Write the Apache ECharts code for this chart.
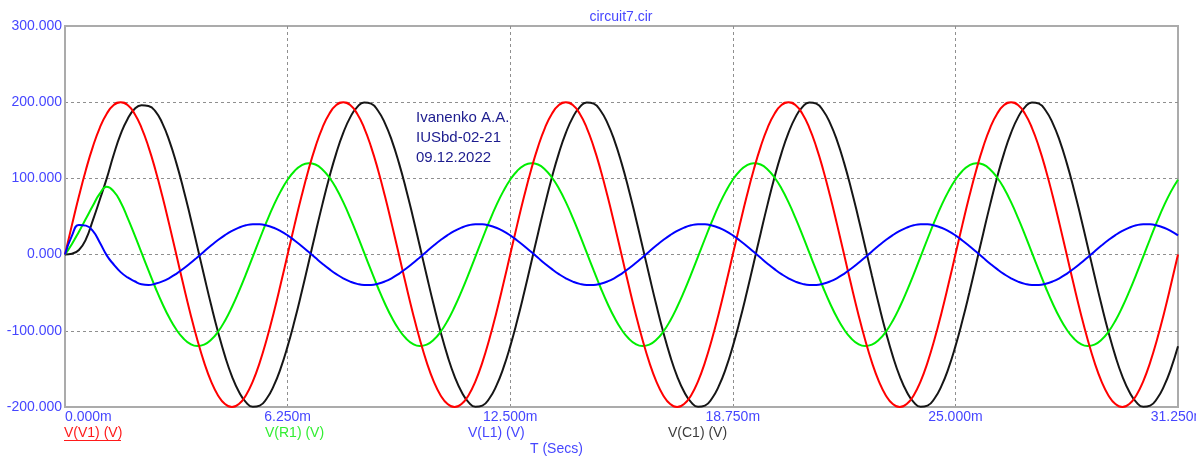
<!DOCTYPE html>
<html>
<head>
<meta charset="utf-8">
<script src="https://cdn.jsdelivr.net/npm/echarts@6/dist/echarts.min.js"></script>
<style>
  html, body { margin: 0; padding: 0; background: #ffffff; }
  #chart { width: 1196px; height: 456px; }
</style>
</head>
<body>
<div id="chart"></div>
<script>
// Transient analysis samples, one every STEP_MS milliseconds (0 .. 31.25 ms)
const STEP_MS = 0.1953125;

// V(V1) (V)
const vV1 = [
  0, 39.0, 76.5, 111.1, 141.4, 166.3, 184.8, 196.2, 200, 196.2, 184.8, 166.3, 141.4, 111.1, 76.5, 39.0, 0, -39.0, -76.5, -111.1, -141.4, -166.3, -184.8, -196.2, -200, -196.2, -184.8, -166.3, -141.4, -111.1, -76.5, -39.0,
  0, 39.0, 76.5, 111.1, 141.4, 166.3, 184.8, 196.2, 200, 196.2, 184.8, 166.3, 141.4, 111.1, 76.5, 39.0, 0, -39.0, -76.5, -111.1, -141.4, -166.3, -184.8, -196.2, -200, -196.2, -184.8, -166.3, -141.4, -111.1, -76.5, -39.0,
  0, 39.0, 76.5, 111.1, 141.4, 166.3, 184.8, 196.2, 200, 196.2, 184.8, 166.3, 141.4, 111.1, 76.5, 39.0, 0, -39.0, -76.5, -111.1, -141.4, -166.3, -184.8, -196.2, -200, -196.2, -184.8, -166.3, -141.4, -111.1, -76.5, -39.0,
  0, 39.0, 76.5, 111.1, 141.4, 166.3, 184.8, 196.2, 200, 196.2, 184.8, 166.3, 141.4, 111.1, 76.5, 39.0, 0, -39.0, -76.5, -111.1, -141.4, -166.3, -184.8, -196.2, -200, -196.2, -184.8, -166.3, -141.4, -111.1, -76.5, -39.0,
  0, 39.0, 76.5, 111.1, 141.4, 166.3, 184.8, 196.2, 200, 196.2, 184.8, 166.3, 141.4, 111.1, 76.5, 39.0, 0, -39.0, -76.5, -111.1, -141.4, -166.3, -184.8, -196.2, -200, -196.2, -184.8, -166.3, -141.4, -111.1, -76.5, -39.0,
  0
];

// V(R1) (V)
const vR1 = [
  0, 14, 30, 47, 64, 80, 89, 83, 68.8, 48.3, 26.0, 2.6, -20.8, -43.5, -64.5, -83.0, -98.3, -109.8, -117.2, -120.0, -118.2, -111.8, -101.2, -86.7, -68.8, -48.3, -26.0, -2.6, 20.8, 43.5, 64.5, 83.0,
  98.3, 109.8, 117.2, 120.0, 118.2, 111.8, 101.2, 86.7, 68.8, 48.3, 26.0, 2.6, -20.8, -43.5, -64.5, -83.0, -98.3, -109.8, -117.2, -120.0, -118.2, -111.8, -101.2, -86.7, -68.8, -48.3, -26.0, -2.6, 20.8, 43.5, 64.5, 83.0,
  98.3, 109.8, 117.2, 120.0, 118.2, 111.8, 101.2, 86.7, 68.8, 48.3, 26.0, 2.6, -20.8, -43.5, -64.5, -83.0, -98.3, -109.8, -117.2, -120.0, -118.2, -111.8, -101.2, -86.7, -68.8, -48.3, -26.0, -2.6, 20.8, 43.5, 64.5, 83.0,
  98.3, 109.8, 117.2, 120.0, 118.2, 111.8, 101.2, 86.7, 68.8, 48.3, 26.0, 2.6, -20.8, -43.5, -64.5, -83.0, -98.3, -109.8, -117.2, -120.0, -118.2, -111.8, -101.2, -86.7, -68.8, -48.3, -26.0, -2.6, 20.8, 43.5, 64.5, 83.0,
  98.3, 109.8, 117.2, 120.0, 118.2, 111.8, 101.2, 86.7, 68.8, 48.3, 26.0, 2.6, -20.8, -43.5, -64.5, -83.0, -98.3, -109.8, -117.2, -120.0, -118.2, -111.8, -101.2, -86.7, -68.8, -48.3, -26.0, -2.6, 20.8, 43.5, 64.5, 83.0,
  98.3
];

// V(L1) (V)
const vL1 = [
  0, 25, 39, 38, 31, 16, -1, -13, -23, -30, -35, -39, -40, -38.2, -35.2, -30.8, -25.2, -18.6, -11.4, -3.7, 4.2, 11.9, 19.1, 25.6, 31.1, 35.4, 38.4, 39.8, 39.8, 38.2, 35.2, 30.8,
  25.2, 18.6, 11.4, 3.7, -4.2, -11.9, -19.1, -25.6, -31.1, -35.4, -38.4, -39.8, -39.8, -38.2, -35.2, -30.8, -25.2, -18.6, -11.4, -3.7, 4.2, 11.9, 19.1, 25.6, 31.1, 35.4, 38.4, 39.8, 39.8, 38.2, 35.2, 30.8,
  25.2, 18.6, 11.4, 3.7, -4.2, -11.9, -19.1, -25.6, -31.1, -35.4, -38.4, -39.8, -39.8, -38.2, -35.2, -30.8, -25.2, -18.6, -11.4, -3.7, 4.2, 11.9, 19.1, 25.6, 31.1, 35.4, 38.4, 39.8, 39.8, 38.2, 35.2, 30.8,
  25.2, 18.6, 11.4, 3.7, -4.2, -11.9, -19.1, -25.6, -31.1, -35.4, -38.4, -39.8, -39.8, -38.2, -35.2, -30.8, -25.2, -18.6, -11.4, -3.7, 4.2, 11.9, 19.1, 25.6, 31.1, 35.4, 38.4, 39.8, 39.8, 38.2, 35.2, 30.8,
  25.2, 18.6, 11.4, 3.7, -4.2, -11.9, -19.1, -25.6, -31.1, -35.4, -38.4, -39.8, -39.8, -38.2, -35.2, -30.8, -25.2, -18.6, -11.4, -3.7, 4.2, 11.9, 19.1, 25.6, 31.1, 35.4, 38.4, 39.8, 39.8, 38.2, 35.2, 30.8,
  25.2
];

// V(C1) (V)
const vC1 = [
  0, 1, 6, 20, 45, 72, 100, 131, 158, 178, 191, 196, 195, 188, 172.3, 149.3, 120.4, 86.9, 50.1, 11.3, -27.8, -65.9, -101.5, -133.2, -159.7, -180.1, -193.6, -199.7, -198.1, -188.8, -172.3, -149.3,
  -120.4, -86.9, -50.1, -11.3, 27.8, 65.9, 101.5, 133.2, 159.7, 180.1, 193.6, 199.7, 198.1, 188.8, 172.3, 149.3, 120.4, 86.9, 50.1, 11.3, -27.8, -65.9, -101.5, -133.2, -159.7, -180.1, -193.6, -199.7, -198.1, -188.8, -172.3, -149.3,
  -120.4, -86.9, -50.1, -11.3, 27.8, 65.9, 101.5, 133.2, 159.7, 180.1, 193.6, 199.7, 198.1, 188.8, 172.3, 149.3, 120.4, 86.9, 50.1, 11.3, -27.8, -65.9, -101.5, -133.2, -159.7, -180.1, -193.6, -199.7, -198.1, -188.8, -172.3, -149.3,
  -120.4, -86.9, -50.1, -11.3, 27.8, 65.9, 101.5, 133.2, 159.7, 180.1, 193.6, 199.7, 198.1, 188.8, 172.3, 149.3, 120.4, 86.9, 50.1, 11.3, -27.8, -65.9, -101.5, -133.2, -159.7, -180.1, -193.6, -199.7, -198.1, -188.8, -172.3, -149.3,
  -120.4, -86.9, -50.1, -11.3, 27.8, 65.9, 101.5, 133.2, 159.7, 180.1, 193.6, 199.7, 198.1, 188.8, 172.3, 149.3, 120.4, 86.9, 50.1, 11.3, -27.8, -65.9, -101.5, -133.2, -159.7, -180.1, -193.6, -199.7, -198.1, -188.8, -172.3, -149.3,
  -120.4
];

const seriesNames = ['V(V1) (V)', 'V(R1) (V)', 'V(L1) (V)', 'V(C1) (V)'];
const xRange = [0, 31.25, 6.25];      // min, max, step (ms)
const yRange = [-200, 300, 100];      // min, max, step (V)
const titleText = 'circuit7.cir';
const xAxisTitle = 'T (Secs)';
const noteLines = ['Ivanenko A.A.', 'IUSbd-02-21', '09.12.2022'];

const FONT = '"Liberation Sans", Arial, sans-serif';
const AXIS_TEXT = '#4646ff';

const toPairs = arr => arr.map((v, i) => [i * STEP_MS, v]);

const lineSeries = (name, data, color) => ({
  name: name,
  type: 'line',
  data: toPairs(data),
  showSymbol: false,
  smooth: 0.5,
  smoothConstraint: false,
  lineStyle: { color: color, width: 2 },
  itemStyle: { color: color },
  emphasis: { disabled: true },
  animation: false
});

const gridLine = { type: [3, 3], color: '#8f8f8f', width: 1 };
const borderLine = { color: '#ababab', width: 2 };

const chart = echarts.init(document.getElementById('chart'), null, { renderer: 'canvas' });
chart.setOption({
  backgroundColor: '#ffffff',
  animation: false,
  grid: {
    left: 65, right: 18, top: 26, bottom: 49,
    containLabel: false,
    outerBoundsMode: 'none',
    show: true, borderColor: '#ababab', borderWidth: 2, backgroundColor: 'transparent'
  },
  xAxis: {
    type: 'value',
    min: xRange[0], max: xRange[1], interval: xRange[2],
    axisLine: { show: true, onZero: false, lineStyle: borderLine },
    axisTick: { show: false },
    axisLabel: {
      color: AXIS_TEXT, fontSize: 14, fontFamily: FONT, margin: 3,
      alignMinLabel: 'left',
      hideOverlap: false,
      formatter: v => v.toFixed(3) + 'm'
    },
    splitLine: { show: true, showMinLine: false, showMaxLine: false, lineStyle: gridLine }
  },
  yAxis: {
    type: 'value',
    min: yRange[0], max: yRange[1], interval: yRange[2],
    axisLine: { show: true, onZero: false, lineStyle: borderLine },
    axisTick: { show: false },
    axisLabel: {
      color: AXIS_TEXT, fontSize: 14, fontFamily: FONT, margin: 3,
      formatter: v => v.toFixed(3)
    },
    splitLine: { show: true, showMinLine: false, showMaxLine: false, lineStyle: gridLine }
  },
  series: [
    lineSeries(seriesNames[3], vC1, '#161616'),
    lineSeries(seriesNames[1], vR1, '#00ee00'),
    lineSeries(seriesNames[0], vV1, '#ff0000'),
    lineSeries(seriesNames[2], vL1, '#0000ff')
  ],
  graphic: [
    { type: 'text', x: 621, y: 17, style: { text: titleText, fill: '#4646ff', font: '14px ' + FONT, textAlign: 'center', textVerticalAlign: 'middle' } },
    { type: 'text', x: 416, y: 108, style: { text: noteLines.join('\n'), fill: '#1c1c8e', font: '15px ' + FONT, lineHeight: 20, textAlign: 'left', textVerticalAlign: 'top' } },
    { type: 'text', x: 64, y: 433, style: { text: seriesNames[0], fill: '#ff1a1a', font: '14px ' + FONT, textVerticalAlign: 'middle' } },
    { type: 'line', shape: { x1: 64, y1: 440.5, x2: 121, y2: 440.5 }, style: { stroke: '#ff1a1a', lineWidth: 1 } },
    { type: 'text', x: 265, y: 433, style: { text: seriesNames[1], fill: '#33ee33', font: '14px ' + FONT, textVerticalAlign: 'middle' } },
    { type: 'text', x: 468, y: 433, style: { text: seriesNames[2], fill: '#4646ff', font: '14px ' + FONT, textVerticalAlign: 'middle' } },
    { type: 'text', x: 668, y: 433, style: { text: seriesNames[3], fill: '#3c3c3c', font: '14px ' + FONT, textVerticalAlign: 'middle' } },
    { type: 'text', x: 530, y: 449, style: { text: xAxisTitle, fill: '#4646ff', font: '14px ' + FONT, textVerticalAlign: 'middle' } }
  ]
});
</script>
</body>
</html>
